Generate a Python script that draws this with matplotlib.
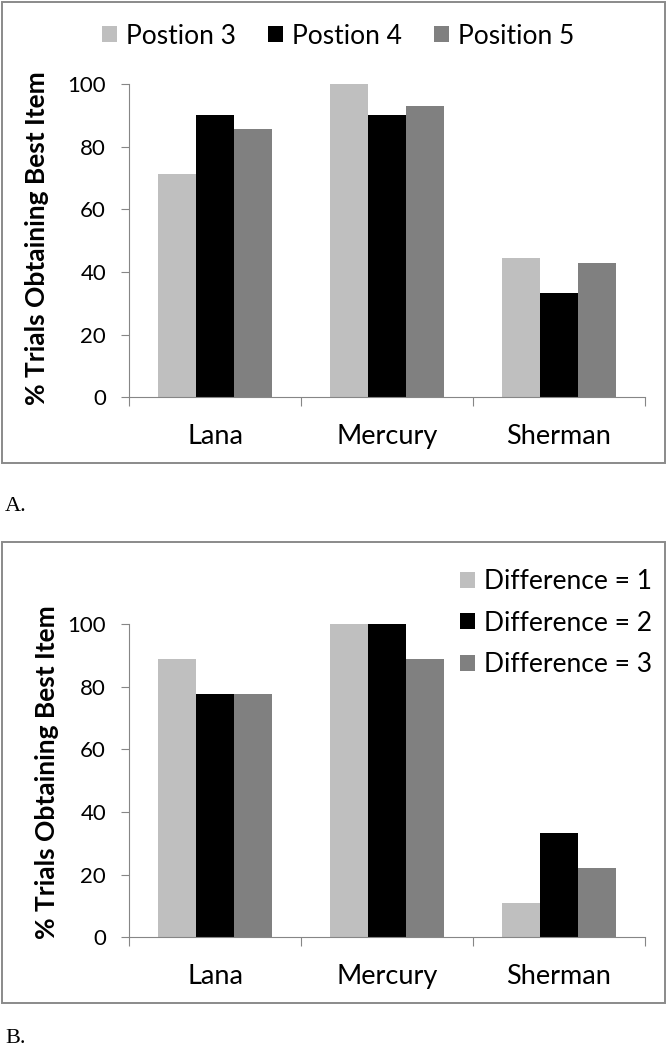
import numpy as np
import matplotlib
matplotlib.use('Agg')
import matplotlib.pyplot as plt
from matplotlib.patches import Rectangle

# data
animals = ['Lana', 'Mercury', 'Sherman']

position_labels = ['Postion 3', 'Postion 4', 'Position 5']
position_3 = [71.4, 100.0, 44.4]
position_4 = [90.0, 90.0, 33.3]
position_5 = [85.7, 92.9, 42.9]

difference_labels = ['Difference = 1', 'Difference = 2', 'Difference = 3']
difference_1 = [88.9, 100.0, 11.1]
difference_2 = [77.8, 100.0, 33.3]
difference_3 = [77.8, 88.9, 22.2]

y_ticks = [0, 20, 40, 60, 80, 100]
y_label = '% Trials Obtaining Best Item'

bar_colors = ['#bfbfbf', '#000000', '#808080']
axis_gray = '#868686'

plt.rcParams['font.family'] = ['Lato', 'DejaVu Sans']

W, H = 666, 1050
fig = plt.figure(figsize=(W / 100, H / 100), dpi=100)


def px_box(x0, y0, x1, y1):
    # pixel box (top-left origin) -> figure fraction [left, bottom, width, height]
    return [x0 / W, 1 - y1 / H, (x1 - x0) / W, (y1 - y0) / H]


def draw_panel(ax, series, labels):
    x = np.arange(len(animals))
    width = 1 / 4.5
    for i, (vals, lab) in enumerate(zip(series, labels)):
        ax.bar(x + (i - 1) * width, vals, width, color=bar_colors[i], label=lab)
    ax.set_xlim(-0.5, len(animals) - 0.5)
    ax.set_ylim(0, 100)
    ax.set_yticks(y_ticks)
    ax.set_xticks(x)
    ax.set_xticklabels(animals, fontsize=19.5)
    ax.set_xticks(np.arange(len(animals) + 1) - 0.5, minor=True)
    ax.tick_params(axis='x', which='major', length=0, pad=19)
    ax.tick_params(axis='x', which='minor', length=6.5, width=0.8, color=axis_gray, direction='out')
    ax.tick_params(axis='y', length=5.5, width=0.8, color=axis_gray, pad=11, labelsize=16)
    for s in ['top', 'right']:
        ax.spines[s].set_visible(False)
    for s in ['left', 'bottom']:
        ax.spines[s].set_color(axis_gray)
        ax.spines[s].set_linewidth(0.8)


# panel A
ax1 = fig.add_axes(px_box(129, 84, 645, 397.3))
draw_panel(ax1, [position_3, position_4, position_5], position_labels)
ax1.legend(loc='center', bbox_to_anchor=(338 / W, 1 - 36 / H), bbox_transform=fig.transFigure,
           ncol=3, frameon=False, fontsize=19, handlelength=0.57, handleheight=0.57,
           handletextpad=0.34, columnspacing=1.2, borderaxespad=0)
fig.text(37 / W, 1 - 238 / H, y_label, rotation=90, ha='center', va='center',
         fontsize=19, fontweight='bold')

# panel B
ax2 = fig.add_axes(px_box(129, 624, 645, 937.3))
draw_panel(ax2, [difference_1, difference_2, difference_3], difference_labels)
ax2.legend(loc='upper left', bbox_to_anchor=(460 / W, 1 - 569 / H), bbox_transform=fig.transFigure,
           ncol=1, frameon=False, fontsize=19, handlelength=0.57, handleheight=0.57,
           handletextpad=0.34, labelspacing=0.63, borderaxespad=0, borderpad=0)
fig.text(47 / W, 1 - 772 / H, y_label, rotation=90, ha='center', va='center',
         fontsize=19, fontweight='bold')

# panel frames
for y0, y1 in [(2, 463), (542, 1003)]:
    fig.patches.append(Rectangle((2 / W, 1 - y1 / H), 663 / W, (y1 - y0) / H,
                                 transform=fig.transFigure, fill=False,
                                 edgecolor='#8a8a8a', linewidth=1.4))

fig.text(5 / W, 1 - 511 / H, 'A.', family='Liberation Serif', fontsize=16, va='baseline')
fig.text(5 / W, 1 - 1043 / H, 'B.', family='Liberation Serif', fontsize=16, va='baseline')

fig.savefig('out.png', dpi=100)
